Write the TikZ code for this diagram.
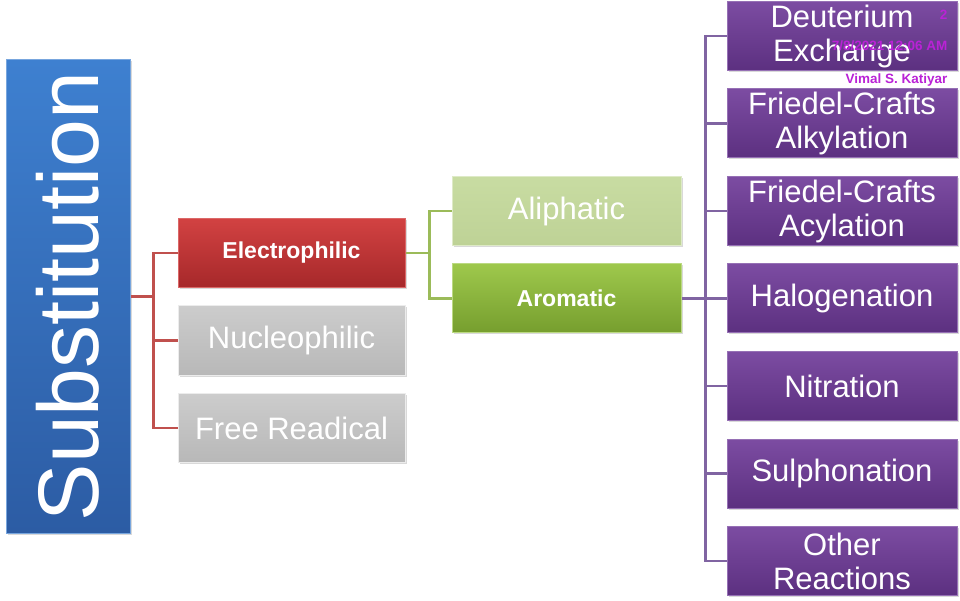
\documentclass[tikz,border=0pt]{standalone}
\usepackage{fontspec}
\setmainfont{Liberation Sans}
\usepackage{graphicx}
\usetikzlibrary{positioning,shadows}

\definecolor{bluetop}{RGB}{62,128,208}
\definecolor{bluebot}{RGB}{44,92,164}
\definecolor{redtop}{RGB}{210,66,66}
\definecolor{redbot}{RGB}{166,40,42}
\definecolor{greytop}{RGB}{204,204,204}
\definecolor{greybot}{RGB}{184,184,184}
\definecolor{limetop}{RGB}{200,220,162}
\definecolor{limebot}{RGB}{190,210,150}
\definecolor{greentop}{RGB}{158,200,76}
\definecolor{greenbot}{RGB}{118,158,46}
\definecolor{violettop}{RGB}{124,76,162}
\definecolor{violetbot}{RGB}{92,48,128}
\definecolor{redline}{RGB}{192,80,77}
\definecolor{greenline}{RGB}{155,187,89}
\definecolor{violetline}{RGB}{128,100,162}
\definecolor{stamp}{RGB}{186,34,214}

\begin{document}
\begin{tikzpicture}[x=1pt,y=1pt,node distance=17.5pt,
box/.style={rectangle,inner sep=0pt,align=center,text=white,minimum height=69pt,
  line width=1pt,drop shadow={opacity=0.3,shadow xshift=1.5pt,shadow yshift=-1.5pt}},
big/.style={font=\fontsize{31}{34}\selectfont},
heavy/.style={font=\bfseries\fontsize{23}{26}\selectfont},
greybox/.style={box,big,minimum width=227pt,top color=greytop,bottom color=greybot,draw=white!85!gray},
violetbox/.style={box,big,minimum width=230pt,top color=violettop,bottom color=violetbot,draw=violettop!80!white},
link/.style={line width=2.5pt}]
\useasboundingbox (0,0) rectangle (960,600);
% root
\node[box,minimum width=124pt,minimum height=473pt,top color=bluetop,bottom color=bluebot,
  draw=bluetop!70!white,font=\fontsize{86}{86}\selectfont] (sub) at (68,303.5)
  {\rotatebox{90}{Substitution}};
% first level
\node[box,heavy,minimum width=227pt,top color=redtop,bottom color=redbot,draw=redtop!80!white]
  (elec) at (291.5,347) {Electrophilic};
\node[greybox] (nucl) [below=of elec] {Nucleophilic};
\node[greybox] (free) [below=of nucl] {Free Readical};
% second level
\node[box,big,minimum width=229pt,top color=limetop,bottom color=limebot,draw=limetop!60!white]
  (ali) at (566.5,389) {Aliphatic};
\node[box,heavy,minimum width=229pt,top color=greentop,bottom color=greenbot,draw=greentop!70!white]
  (aro) [below=of ali] {Aromatic};
% reactions
\node[violetbox] (deut) at (842,564) {Deuterium\\Exchange};
\node[violetbox] (alk) [below=of deut] {Friedel-Crafts\\Alkylation};
\node[violetbox] (acy) [below=of alk] {Friedel-Crafts\\Acylation};
\node[violetbox] (halo) [below=of acy] {Halogenation};
\node[violetbox] (nitr) [below=of halo] {Nitration};
\node[violetbox] (sulp) [below=of nitr] {Sulphonation};
\node[violetbox] (other) [below=of sulp] {Other\\Reactions};
% connectors
\draw[link,redline] (sub.east) -- ++(23,0) coordinate (rj) |- (elec.west);
\draw[link,redline] (rj) |- (nucl.west) (rj) |- (free.west);
\draw[link,greenline] (elec.east) -- ++(24,0) coordinate (gj) |- (ali.west);
\draw[link,greenline] (gj) |- (aro.west);
\draw[link,violetline] (aro.east) -- ++(24,0) coordinate (vj);
\foreach \r in {deut,alk,acy,halo,nitr,sulp,other}
  \draw[link,violetline] (vj) |- (\r.west);
% slide stamp
\node[stamp,font=\bfseries\fontsize{13.5}{14}\selectfont,anchor=east] (pg) at (951,585) {2};
\node[stamp,font=\bfseries\fontsize{13.5}{14}\selectfont,anchor=east] (date) at (951,554) {7/8/2021 12:06 AM};
\node[stamp,font=\bfseries\fontsize{13.5}{14}\selectfont,anchor=east] (auth) at (951,520) {Vimal S. Katiyar};
\end{tikzpicture}
\end{document}
